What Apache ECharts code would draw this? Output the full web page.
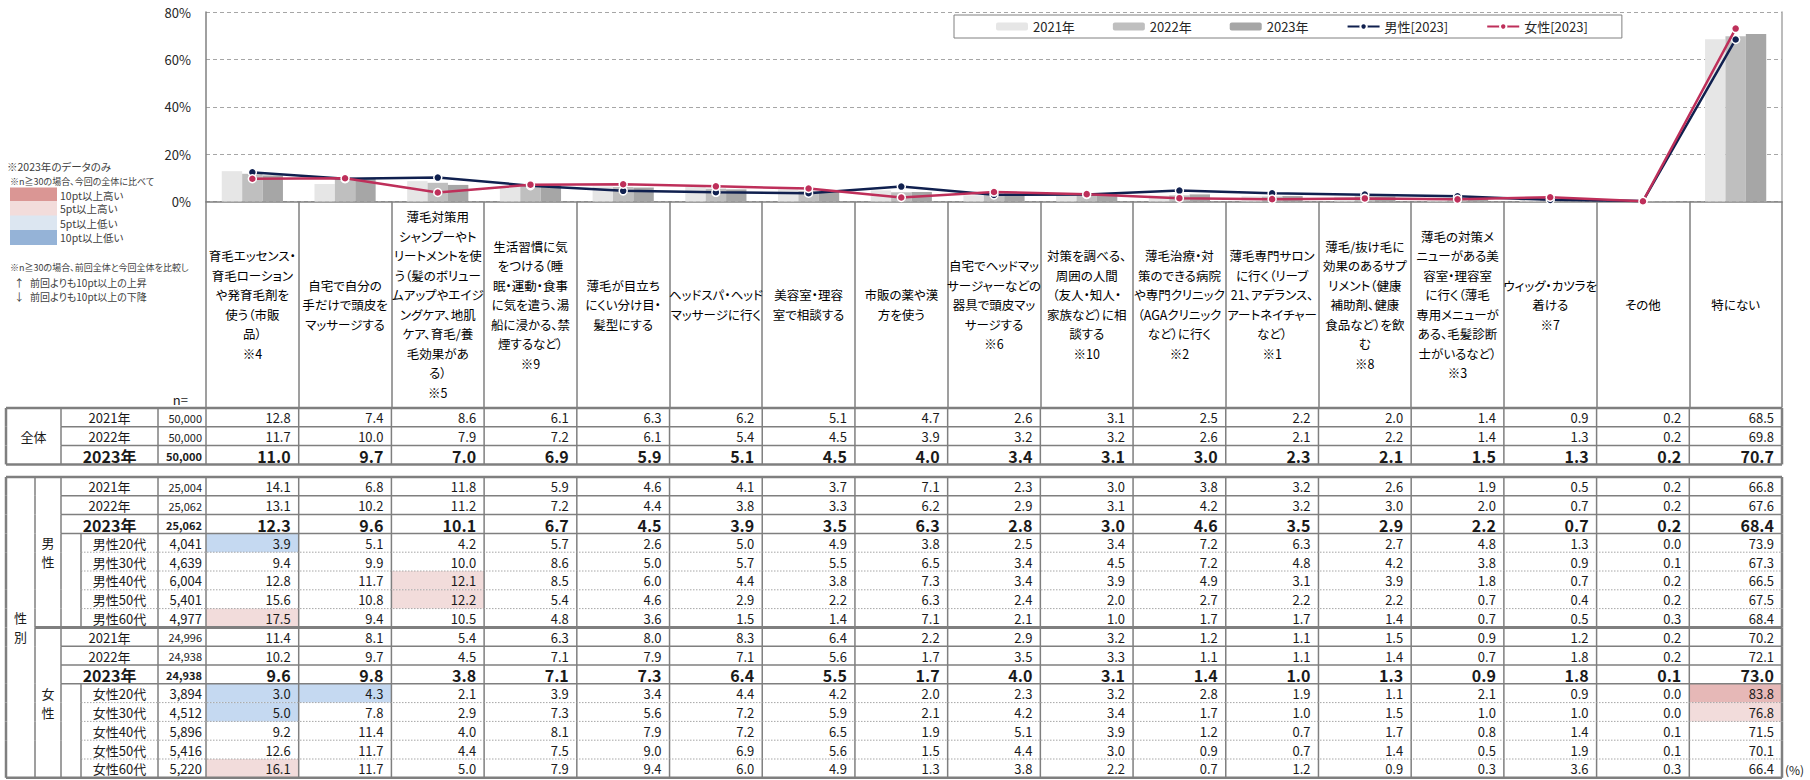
<!DOCTYPE html>
<html>
<head>
<meta charset="utf-8">
<script src="https://cdn.jsdelivr.net/npm/echarts@6/dist/echarts.min.js"></script>
<style>
  html, body { margin: 0; padding: 0; background: #fff; }
  #chart { width: 1810px; height: 780px; }
  /* 仮名を詰める（Meiryo UI に近づける） */
  #chart text { font-feature-settings: "palt" 1 !important; }
</style>
</head>
<body>
<div id="chart"></div>
<script>
const FONT = '"Noto Sans CJK JP", "Noto Sans", sans-serif';

// 項目（表の見出し）
const categories = [
  '育毛エッセンス・\n育毛ローション\nや発育毛剤を\n使う（市販\n品）\n※4',
  '自宅で自分の\n手だけで頭皮を\nマッサージする',
  '薄毛対策用\nシャンプーやト\nリートメントを使\nう（髪のボリュー\nムアップやエイジ\nングケア、地肌\nケア、育毛/養\n毛効果があ\nる）\n※5',
  '生活習慣に気\nをつける（睡\n眠・運動・食事\nに気を遣う、湯\n船に浸かる、禁\n煙するなど）\n※9',
  '薄毛が目立ち\nにくい分け目・\n髪型にする',
  'ヘッドスパ・ヘッド\nマッサージに行く',
  '美容室・理容\n室で相談する',
  '市販の薬や漢\n方を使う',
  '自宅でヘッドマッ\nサージャーなどの\n器具で頭皮マッ\nサージする\n※6',
  '対策を調べる、\n周囲の人間\n（友人・知人・\n家族など）に相\n談する\n※10',
  '薄毛治療・対\n策のできる病院\nや専門クリニック\n（AGAクリニック\nなど）に行く\n※2',
  '薄毛専門サロン\nに行く（リーブ\n21、アデランス、\nアートネイチャー\nなど）\n※1',
  '薄毛/抜け毛に\n効果のあるサプ\nリメント（健康\n補助剤、健康\n食品など）を飲\nむ\n※8',
  '薄毛の対策メ\nニューがある美\n容室・理容室\nに行く（薄毛\n専用メニューが\nある、毛髪診断\n士がいるなど）\n※3',
  'ウィッグ・カツラを\n着ける\n※7',
  'その他',
  '特にない'
];
const yearLabels = ['2021年', '2022年', '2023年'];
const yTicks = [0, 20, 40, 60, 80];

// 全体
const totalN = [50000, 50000, 50000];
const total2021 = [12.8, 7.4, 8.6, 6.1, 6.3, 6.2, 5.1, 4.7, 2.6, 3.1, 2.5, 2.2, 2.0, 1.4, 0.9, 0.2, 68.5];
const total2022 = [11.7, 10.0, 7.9, 7.2, 6.1, 5.4, 4.5, 3.9, 3.2, 3.2, 2.6, 2.1, 2.2, 1.4, 1.3, 0.2, 69.8];
const total2023 = [11.0, 9.7, 7.0, 6.9, 5.9, 5.1, 4.5, 4.0, 3.4, 3.1, 3.0, 2.3, 2.1, 1.5, 1.3, 0.2, 70.7];

// 男性
const maleN = [25004, 25062, 25062];
const male2021 = [14.1, 6.8, 11.8, 5.9, 4.6, 4.1, 3.7, 7.1, 2.3, 3.0, 3.8, 3.2, 2.6, 1.9, 0.5, 0.2, 66.8];
const male2022 = [13.1, 10.2, 11.2, 7.2, 4.4, 3.8, 3.3, 6.2, 2.9, 3.1, 4.2, 3.2, 3.0, 2.0, 0.7, 0.2, 67.6];
const male2023 = [12.3, 9.6, 10.1, 6.7, 4.5, 3.9, 3.5, 6.3, 2.8, 3.0, 4.6, 3.5, 2.9, 2.2, 0.7, 0.2, 68.4];
const maleAgeLabels = ['男性20代', '男性30代', '男性40代', '男性50代', '男性60代'];
const maleAgeN = [4041, 4639, 6004, 5401, 4977];
const male20s = [3.9, 5.1, 4.2, 5.7, 2.6, 5.0, 4.9, 3.8, 2.5, 3.4, 7.2, 6.3, 2.7, 4.8, 1.3, 0.0, 73.9];
const male30s = [9.4, 9.9, 10.0, 8.6, 5.0, 5.7, 5.5, 6.5, 3.4, 4.5, 7.2, 4.8, 4.2, 3.8, 0.9, 0.1, 67.3];
const male40s = [12.8, 11.7, 12.1, 8.5, 6.0, 4.4, 3.8, 7.3, 3.4, 3.9, 4.9, 3.1, 3.9, 1.8, 0.7, 0.2, 66.5];
const male50s = [15.6, 10.8, 12.2, 5.4, 4.6, 2.9, 2.2, 6.3, 2.4, 2.0, 2.7, 2.2, 2.2, 0.7, 0.4, 0.2, 67.5];
const male60s = [17.5, 9.4, 10.5, 4.8, 3.6, 1.5, 1.4, 7.1, 2.1, 1.0, 1.7, 1.7, 1.4, 0.7, 0.5, 0.3, 68.4];

// 女性
const femaleN = [24996, 24938, 24938];
const female2021 = [11.4, 8.1, 5.4, 6.3, 8.0, 8.3, 6.4, 2.2, 2.9, 3.2, 1.2, 1.1, 1.5, 0.9, 1.2, 0.2, 70.2];
const female2022 = [10.2, 9.7, 4.5, 7.1, 7.9, 7.1, 5.6, 1.7, 3.5, 3.3, 1.1, 1.1, 1.4, 0.7, 1.8, 0.2, 72.1];
const female2023 = [9.6, 9.8, 3.8, 7.1, 7.3, 6.4, 5.5, 1.7, 4.0, 3.1, 1.4, 1.0, 1.3, 0.9, 1.8, 0.1, 73.0];
const femaleAgeLabels = ['女性20代', '女性30代', '女性40代', '女性50代', '女性60代'];
const femaleAgeN = [3894, 4512, 5896, 5416, 5220];
const female20s = [3.0, 4.3, 2.1, 3.9, 3.4, 4.4, 4.2, 2.0, 2.3, 3.2, 2.8, 1.9, 1.1, 2.1, 0.9, 0.0, 83.8];
const female30s = [5.0, 7.8, 2.9, 7.3, 5.6, 7.2, 5.9, 2.1, 4.2, 3.4, 1.7, 1.0, 1.5, 1.0, 1.0, 0.0, 76.8];
const female40s = [9.2, 11.4, 4.0, 8.1, 7.9, 7.2, 6.5, 1.9, 5.1, 3.9, 1.2, 0.7, 1.7, 0.8, 1.4, 0.1, 71.5];
const female50s = [12.6, 11.7, 4.4, 7.5, 9.0, 6.9, 5.6, 1.5, 4.4, 3.0, 0.9, 0.7, 1.4, 0.5, 1.9, 0.1, 70.1];
const female60s = [16.1, 11.7, 5.0, 7.9, 9.4, 6.0, 4.9, 1.3, 3.8, 2.2, 0.7, 1.2, 0.9, 0.3, 3.6, 0.3, 66.4];

// ---- 表の行を組み立てる ----
const totalRows = [total2021, total2022, total2023].map((v, k) => ({
  key: '全体' + yearLabels[k], label: yearLabels[k], n: totalN[k], values: v, kind: 'year', bold: k === 2
}));

function genderBlock(sex, yearN, yearVals, ageLabels, ageN, ageVals) {
  const rows = yearVals.map((v, k) => ({
    key: sex + yearLabels[k], label: yearLabels[k], n: yearN[k], values: v, kind: 'year', bold: k === 2
  }));
  ageVals.forEach((v, k) => rows.push({ key: ageLabels[k], label: ageLabels[k], n: ageN[k], values: v, kind: 'age' }));
  return rows;
}
const genderRows = genderBlock('男性', maleN, [male2021, male2022, male2023], maleAgeLabels, maleAgeN,
  [male20s, male30s, male40s, male50s, male60s])
  .concat(genderBlock('女性', femaleN, [female2021, female2022, female2023], femaleAgeLabels, femaleAgeN,
  [female20s, female30s, female40s, female50s, female60s]));

// 左側の列の区切り
const X_OUT = 6, X_SEX = 35, X_GRP = 61, X_IND = 81, X_LBL = 158;
const LINE = '#7F7F7F';

// 今回の全体との差で色付け（2023年の年代別のみ）
function highlightFill(v, base) {
  const d = Math.round((v - base) * 10) / 10;
  if (d >= 10) return '#E6B8B7';
  if (d >= 5) return '#F2DCDB';
  if (d <= -10) return '#95B3D7';
  if (d <= -5) return '#C5D9F1';
  return null;
}

function txt(x, y, s, align, size, weight, extra) {
  return {
    type: 'text', x: x, y: y,
    style: Object.assign({
      text: s, fill: '#1a1a1a', fontSize: size, fontWeight: weight || 'normal', fontFamily: FONT,
      align: align, verticalAlign: 'middle', textAlign: align, textVerticalAlign: 'middle'
    }, extra || {})
  };
}
function ln(x1, y1, x2, y2, w, color, dash) {
  return { type: 'line', shape: { x1: x1, y1: y1, x2: x2, y2: y2 }, style: { stroke: color, lineWidth: w, lineDash: dash || null } };
}

function tableRenderer(rows, groups, gender, part) {
  return function (params, api) {
    const i = params.dataIndex, row = rows[i], last = rows.length - 1;
    const colW = api.size([1, 0])[0], rowH = api.size([0, 1])[1];
    const p0 = api.coord([0, i]);
    const cy = p0[1], top = cy - rowH / 2, bot = cy + rowH / 2;
    const xL = p0[0] - colW / 2;
    const xR = api.coord([categories.length - 1, i])[0] + colW / 2;
    const kids = [];

    if (part === 'bg') {
      if (row.kind === 'age') {
        row.values.forEach((v, c) => {
          const fill = highlightFill(v, total2023[c]);
          if (fill) kids.push({ type: 'rect', shape: { x: api.coord([c, i])[0] - colW / 2, y: top, width: colW, height: rowH }, style: { fill: fill } });
        });
      }
      return { type: 'group', children: kids };
    }

    // 数値
    row.values.forEach((v, c) => {
      const cx = api.coord([c, i])[0];
      kids.push(txt(cx + colW / 2 - 8, cy + 0.5, v.toFixed(1), 'right', row.bold ? 16 : 13, row.bold ? 'bold' : 'normal'));
    });
    // 行ラベル・n
    if (row.kind === 'age') {
      kids.push(txt((X_IND + X_LBL) / 2, cy + 0.5, row.label, 'center', 13));
      kids.push(txt(xL - 4, cy + 0.5, row.n.toLocaleString('en-US'), 'right', 13));
    } else {
      kids.push(txt((X_GRP + X_LBL) / 2, cy + 0.5, row.label, 'center', row.bold ? 16 : 13, row.bold ? 'bold' : 'normal'));
      kids.push(txt(xL - 4, cy + 0.5, row.n.toLocaleString('en-US'), 'right', 11, row.bold ? 'bold' : 'normal'));
    }
    groups.forEach(g => {
      if (g.row === i) {
        kids.push(txt(g.x, g.pos === 'bottom' ? bot : cy, g.text, 'center', 13, 'normal', { lineHeight: 19 }));
      }
    });

    // 縦線
    const inner = [xL];
    for (let c = 1; c < categories.length; c++) inner.push(xL + c * colW);
    if (!gender) inner.push(X_GRP, X_LBL);
    else if (row.kind === 'year') inner.push(X_SEX, X_GRP, X_LBL);
    else inner.push(X_SEX, X_GRP, X_IND, X_LBL);
    inner.forEach(x => kids.push(ln(x, top, x, bot, 1.5, LINE)));
    kids.push(ln(X_OUT, top, X_OUT, bot, 2.5, LINE));
    kids.push(ln(xR, top, xR, bot, 2.5, LINE));

    // 横線
    if (i === 0) kids.push(ln(X_OUT, top, xR, top, 2.5, LINE));
    if (i === last) kids.push(ln(X_OUT, bot, xR, bot, 2.5, LINE));
    else if (gender && i === 7) kids.push(ln(X_SEX, bot, xR, bot, 3, LINE));
    else if (row.kind === 'age' && rows[i + 1].kind === 'age') kids.push(ln(X_IND, bot, xR, bot, 1, '#A6A6A6', [1.5, 1.5]));
    else kids.push(ln(X_GRP, bot, xR, bot, 1.5, LINE));

    return { type: 'group', children: kids };
  };
}

const totalGroups = [{ row: 1, pos: 'center', x: (X_OUT + X_GRP) / 2, text: '全体' }];
const genderGroups = [
  { row: 7, pos: 'bottom', x: (X_OUT + X_SEX) / 2, text: '性\n別' },
  { row: 3, pos: 'bottom', x: (X_SEX + X_GRP) / 2, text: '男\n性' },
  { row: 11, pos: 'bottom', x: (X_SEX + X_GRP) / 2, text: '女\n性' }
];

function tableSeries(axisIdx, rows, groups, gender) {
  const data = rows.map((r, i) => [0, i]);
  return [
    { type: 'custom', xAxisIndex: axisIdx, yAxisIndex: axisIdx + 1, data: data, clip: false, silent: true, z: 1,
      renderItem: tableRenderer(rows, groups, gender, 'bg') },
    { type: 'custom', xAxisIndex: axisIdx, yAxisIndex: axisIdx + 1, data: data, clip: false, silent: true, z: 2,
      renderItem: tableRenderer(rows, groups, gender, 'fg') }
  ];
}

// ---- 左の注記 ----
function note(x, y, s, size) {
  return { type: 'text', x: x, y: y, style: { text: s, fill: '#404040', fontSize: size, fontFamily: FONT, align: 'left', verticalAlign: 'middle', textAlign: 'left', textVerticalAlign: 'middle' } };
}
const keyColors = ['#DA9694', '#F2DCDB', '#DCE6F1', '#95B3D7'];
const keyLabels = ['10pt以上高い', '5pt以上高い', '5pt以上低い', '10pt以上低い'];
const keyTops = [187.5, 201, 215.5, 230];
const graphics = [
  note(7, 166, '※2023年のデータのみ', 10.5),
  note(10, 181, '※n≧30の場合、今回の全体に比べて', 9),
  note(10, 267, '※n≧30の場合、前回全体と今回全体を比較し', 9),
  note(14, 282, '↑', 10.5), note(30, 282, '前回よりも10pt以上の上昇', 10),
  note(14, 296, '↓', 10.5), note(30, 296, '前回よりも10pt以上の下降', 10),
  { type: 'text', x: 188, y: 399, style: { text: 'n=', fill: '#1a1a1a', fontSize: 13, fontFamily: FONT, align: 'right', verticalAlign: 'middle', textAlign: 'right', textVerticalAlign: 'middle' } },
  { type: 'text', x: 1785, y: 769, style: { text: '(%)', fill: '#1a1a1a', fontSize: 12, fontFamily: FONT, align: 'left', verticalAlign: 'middle', textAlign: 'left', textVerticalAlign: 'middle' } }
];
keyColors.forEach((c, k) => {
  graphics.push({ type: 'rect', shape: { x: 10, y: keyTops[k], width: 47, height: 15 }, style: { fill: c } });
  graphics.push(note(60, keyTops[k] + 7.5, keyLabels[k], 10.5));
});

const chart = echarts.init(document.getElementById('chart'), null, { renderer: 'svg' });

const option = {
  animation: false,
  textStyle: { fontFamily: FONT },
  legend: {
    data: ['2021年', '2022年', '2023年', '男性[2023]', '女性[2023]'],
    left: 954, top: 15,
    padding: [5, 34, 5, 42],
    itemWidth: 32, itemHeight: 8, itemGap: 38,
    borderColor: '#808080', borderWidth: 1,
    textStyle: { fontSize: 13, color: '#262626', fontFamily: FONT }
  },
  grid: [
    { left: 206, top: 12, width: 1576, height: 189.5, outerBoundsMode: 'none' },
    { left: 206, top: 408, width: 1576, height: 56.4, outerBoundsMode: 'none' },
    { left: 206, top: 477, width: 1576, height: 300.8, outerBoundsMode: 'none' }
  ],
  xAxis: [
    {
      gridIndex: 0, type: 'category', data: categories,
      axisLine: { lineStyle: { color: '#808080', width: 1.5 } },
      axisTick: { show: true, interval: 0, length: 206, lineStyle: { color: LINE, width: 1.5 } },
      axisLabel: { interval: 0, margin: 103, verticalAlign: 'middle', lineHeight: 19.5, fontSize: 12.5, color: '#000', fontFamily: FONT }
    },
    { gridIndex: 1, type: 'category', data: categories, show: false },
    { gridIndex: 2, type: 'category', data: categories, show: false }
  ],
  yAxis: [
    {
      gridIndex: 0, type: 'value', min: yTicks[0], max: yTicks[yTicks.length - 1], interval: 20,
      axisLine: { show: true, lineStyle: { color: '#808080', width: 1.5 } },
      axisTick: { show: false },
      axisLabel: { formatter: '{value}%', fontSize: 13, color: '#262626', margin: 15, fontFamily: FONT },
      splitLine: { show: true, lineStyle: { color: '#A6A6A6', width: 1.2, type: [4, 3] } }
    },
    {
      gridIndex: 0, type: 'value', position: 'right', min: yTicks[0], max: yTicks[yTicks.length - 1], interval: 20,
      axisLine: { show: true, lineStyle: { color: '#A6A6A6', width: 1.5 } },
      axisTick: { show: false }, axisLabel: { show: false }, splitLine: { show: false }
    },
    { gridIndex: 1, type: 'category', data: totalRows.map(r => r.key), inverse: true, show: false },
    { gridIndex: 2, type: 'category', data: genderRows.map(r => r.key), inverse: true, show: false }
  ],
  graphic: graphics,
  series: [
    { name: '2021年', type: 'bar', xAxisIndex: 0, yAxisIndex: 0, data: total2021, barGap: '0%', barCategoryGap: '34%', itemStyle: { color: '#E6E6E6' } },
    { name: '2022年', type: 'bar', xAxisIndex: 0, yAxisIndex: 0, data: total2022, barGap: '0%', barCategoryGap: '34%', itemStyle: { color: '#BFBFBF' } },
    { name: '2023年', type: 'bar', xAxisIndex: 0, yAxisIndex: 0, data: total2023, barGap: '0%', barCategoryGap: '34%', itemStyle: { color: '#A6A6A6' } },
    {
      name: '男性[2023]', type: 'line', xAxisIndex: 0, yAxisIndex: 0, data: male2023, z: 4,
      symbol: 'circle', symbolSize: 8,
      lineStyle: { color: '#10204F', width: 2.5 },
      itemStyle: { color: '#10204F', borderColor: '#fff', borderWidth: 1.5 }
    },
    {
      name: '女性[2023]', type: 'line', xAxisIndex: 0, yAxisIndex: 0, data: female2023, z: 5,
      symbol: 'circle', symbolSize: 8,
      lineStyle: { color: '#BE2F5A', width: 2.5 },
      itemStyle: { color: '#BE2F5A', borderColor: '#fff', borderWidth: 1.5 }
    }
  ].concat(tableSeries(1, totalRows, totalGroups, false), tableSeries(2, genderRows, genderGroups, true))
};

chart.setOption(option);
</script>
</body>
</html>
